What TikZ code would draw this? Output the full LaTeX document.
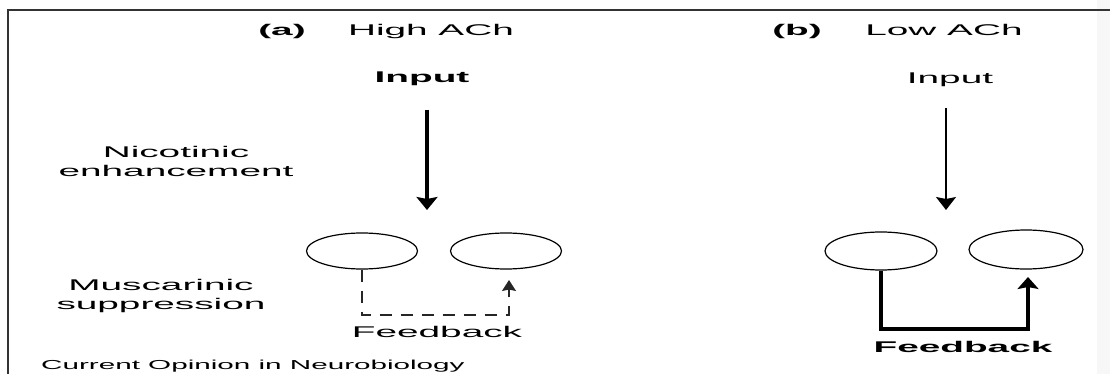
\documentclass[tikz,border=0pt]{standalone}
\usepackage{fontspec}
\setmainfont{Liberation Sans}
\usetikzlibrary{arrows.meta,shapes.geometric}
\newcommand{\wtxt}[1]{\scalebox{2.5}[1]{#1}}
\newcommand{\ctxt}[1]{\scalebox{2.28}[1]{#1}}
\begin{document}
\begin{tikzpicture}[x=1pt,y=-1pt,
  lbl/.style={inner sep=0pt, anchor=base, font=\fontsize{15.5}{18}\selectfont},
  captxt/.style={inner sep=0pt, anchor=base west, font=\fontsize{13}{16}\selectfont},
  cell/.style={draw, ellipse, line width=1.2pt, inner sep=0pt, minimum width=111pt, minimum height=36pt},
  thickarrow/.style={line width=4pt, -{Stealth[length=13pt,width=21pt,inset=2pt]}},
  thinarrow/.style={line width=1.5pt, -{Stealth[length=13pt,width=20pt,inset=2pt]}},
  dasharrow/.style={draw=black!85, line width=1.4pt, dash pattern=on 12pt off 9pt, -{Stealth[length=11pt,width=14pt,inset=1.5pt]}},
  fbarrow/.style={line width=4pt, -{Stealth[length=12pt,width=21pt,inset=2pt]}},
  frameline/.style={draw=black!80, line width=2pt}
]
\useasboundingbox (0,0) rectangle (1110,374);
\fill[black!3] (1097,0) rectangle (1110,374);
% frame
\coordinate (f1) at (7.5,374);
\coordinate (f2) at (7.5,10);
\coordinate (f3) at (1110,10);
\draw[frameline] (f1) -- (f2) -- (f3);

% ---------- panel (a)
\node[lbl] (ta) at (282,36) {\wtxt{\textbf{(a)}}};
\node[lbl] (ha) at (431,36) {\wtxt{High ACh}};
\node[lbl] (ina) at (422,83) {\wtxt{\textbf{Input}}};
\node[lbl] (nic1) at (176,158) {\wtxt{Nicotinic}};
\node[lbl] (nic2) at (176,177) {\wtxt{enhancement}};
\node[lbl] (mus1) at (161,290) {\wtxt{Muscarinic}};
\node[lbl] (mus2) at (161,309) {\wtxt{suppression}};
\node[cell] (ca1) at (362,251) {};
\node[cell] (ca2) at (506,251) {};
\node[lbl] (fba) at (437,337) {\wtxt{Feedback}};
\node[captxt] (capt) at (41,369) {\ctxt{Current Opinion in Neurobiology}};

\coordinate (a1s) at (427,110);
\coordinate (a1e) at (427,210);
\draw[thickarrow] (a1s) -- (a1e);
\coordinate (ya) at (0,315);
\coordinate (fa) at (509,280);
\draw[dasharrow] (ca1.south) -- (ca1.south |- ya) -| (fa);

% ---------- panel (b)
\node[lbl] (tb) at (797,36) {\wtxt{\textbf{(b)}}};
\node[lbl] (lb) at (944,36) {\wtxt{Low ACh}};
\node[lbl] (inb) at (950,84) {\wtxt{Input}};
\node[cell, minimum width=112pt, minimum height=38pt] (cb1) at (881,251) {};
\node[cell, minimum width=114pt, minimum height=39pt] (cb2) at (1026,249.5) {};
\node[lbl] (fbb) at (963,352) {\wtxt{\textbf{Feedback}}};

\coordinate (b1s) at (946,108);
\coordinate (b1e) at (946,210);
\draw[thinarrow] (b1s) -- (b1e);
\coordinate (yb) at (0,329);
\coordinate (fb) at (1028,277);
\draw[fbarrow] (cb1.south) -- (cb1.south |- yb) -| (fb);
\end{tikzpicture}
\end{document}
